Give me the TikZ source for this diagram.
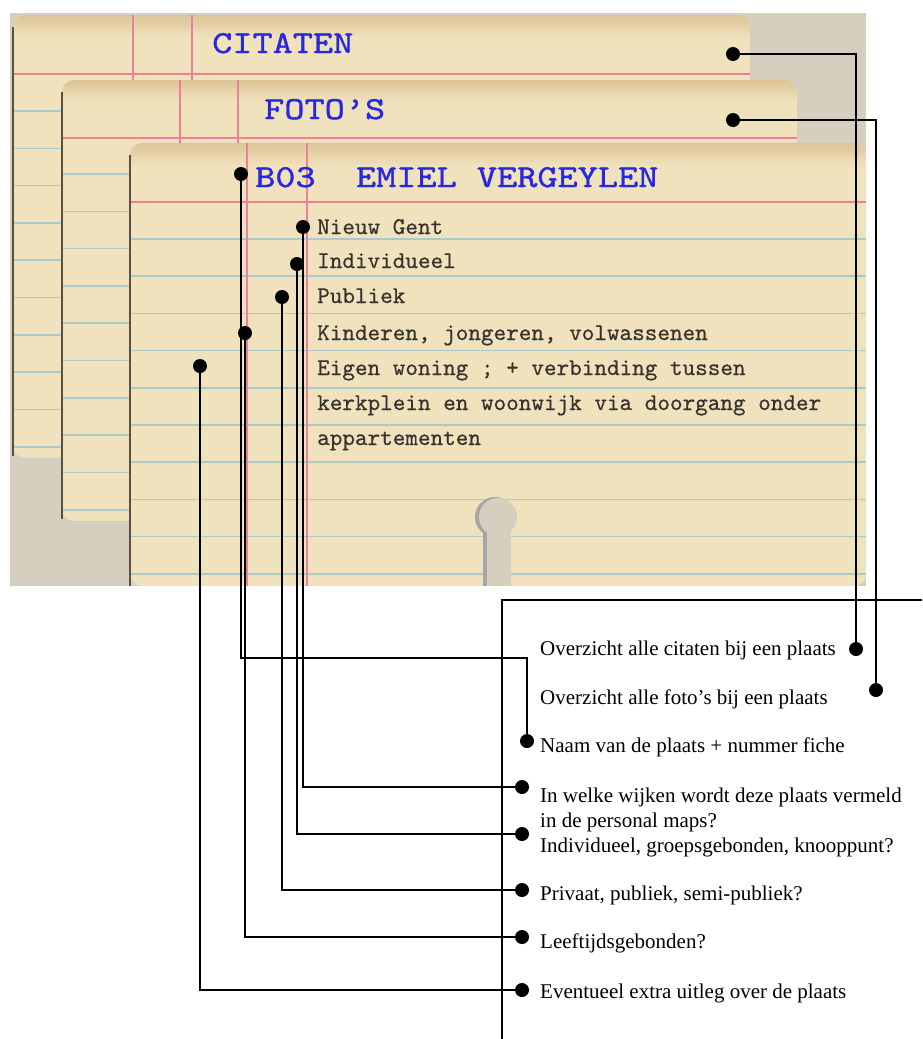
\documentclass[tikz,border=0pt]{standalone}
\usepackage{fontspec}
\setmainfont{Liberation Serif}
\newfontfamily\hdrfont[FakeStretch=1.2,FakeBold=1.2]{lmmono10-regular.otf}
\newfontfamily\typefont[FakeBold=0.6]{lmmono10-regular.otf}
\definecolor{linen}{RGB}{214,207,192}
\definecolor{cardfill}{RGB}{241,226,190}
\definecolor{cardtop}{RGB}{220,196,150}
\definecolor{redln}{RGB}{234,128,158}
\definecolor{blueln}{RGB}{168,202,200}
\definecolor{inkblue}{RGB}{40,40,225}
\definecolor{ink}{RGB}{55,50,45}
\definecolor{cardedge}{RGB}{90,80,70}
\tikzset{
  redrule/.style={draw=redln, line width=2pt},
  bluerule/.style={draw=blueln, line width=1.6pt},
  edgeline/.style={draw=cardedge, line width=1.6pt},
  hdr/.style={anchor=base west, inner sep=0pt, text=inkblue, font=\hdrfont\fontsize{32}{36}\selectfont},
  body/.style={anchor=base west, inner sep=0pt, text=ink, font=\typefont\fontsize{24}{28}\selectfont},
  lbl/.style={anchor=base west, inner sep=0pt, text=black, font=\fontsize{21}{25}\selectfont},
  dot/.style={circle, fill=black, inner sep=0pt, minimum size=14pt},
  conn/.style={draw=black, line width=2pt}
}
\begin{document}
\begin{tikzpicture}[x=1pt,y=-1pt]
\useasboundingbox (0,0) rectangle (922,1039);
\fill[white] (0,0) rectangle (922,1039);
% linen background of the photo
\fill[linen] (10,13) rectangle (866,586);

% card 1 : CITATEN
\begin{scope}
\clip[rounded corners=12pt] (13,458) -- (13,15) -- (750,15) -- (750,458) -- cycle;
\fill[cardfill] (13,15) rectangle (750,458);
\shade[top color=cardtop, bottom color=cardfill] (13,15) rectangle (750,38);
\foreach \y in {111,148.3,...,450} \draw[bluerule] (13,\y) -- (750,\y);
\draw[redrule] (13,74) -- (750,74);
\foreach \x in {133,192} \draw[redrule] (\x,15) -- (\x,458);
\end{scope}
\draw[edgeline] (13,456) -- (13,27);

% card 2 : FOTO'S
\begin{scope}
\clip[rounded corners=12pt] (62,521) -- (62,80) -- (797,80) -- (797,521) -- cycle;
\fill[cardfill] (62,80) rectangle (797,521);
\shade[top color=cardtop, bottom color=cardfill] (62,80) rectangle (797,102);
\foreach \y in {174,211.3,...,515} \draw[bluerule] (62,\y) -- (797,\y);
\draw[redrule] (62,138) -- (797,138);
\foreach \x in {180,238} \draw[redrule] (\x,80) -- (\x,521);
\end{scope}
\draw[edgeline] (62,519) -- (62,92);

% card 3 : B03
\begin{scope}
\clip[rounded corners=12pt] (130,586) -- (130,143) -- (866,143) -- (866,586) -- cycle;
\fill[cardfill] (130,143) rectangle (866,586);
\shade[top color=cardtop, bottom color=cardfill] (130,143) rectangle (866,166);
\foreach \y in {239,276.2,...,580} \draw[bluerule] (130,\y) -- (866,\y);
\draw[redrule] (130,202) -- (866,202);
\foreach \x in {247,307} \draw[redrule] (\x,143) -- (\x,586);
\end{scope}
\draw[edgeline] (130,586) -- (130,155);

% keyhole in card 3
\fill[gray!70] (495,517) circle (20);
\fill[gray!70] (483,517) rectangle (509,586);
\fill[linen] (498,517) circle (19);
\fill[linen] (487,517) rectangle (511,586);

% texts on the cards
\node[hdr] (tcit) at (212,53) {CITATEN};
\node[hdr] (tfot) at (264,119) {FOTO’S};
\node[hdr] (tb03) at (255,187) {B03\ \ EMIEL VERGEYLEN};
\node[body] (tng) at (317,234) {Nieuw Gent};
\node[body] (tind) at (317,268) {Individueel};
\node[body] (tpub) at (317,303) {Publiek};
\node[body] (tkin) at (317,340) {Kinderen, jongeren, volwassenen};
\node[body] (teig1) at (317,375) {Eigen woning ; + verbinding tussen};
\node[body] (teig2) at (317,410) {kerkplein en woonwijk via doorgang onder};
\node[body] (teig3) at (317,445) {appartementen};

% explanatory labels
\node[lbl] (lcit) at (540,655) {Overzicht alle citaten bij een plaats};
\node[lbl] (lfot) at (540,704) {Overzicht alle foto’s bij een plaats};
\node[lbl] (lnaam) at (540,752) {Naam van de plaats + nummer fiche};
\node[lbl] (lwa) at (540,802) {In welke wijken wordt deze plaats vermeld};
\node[lbl] (lwb) at (540,827) {in de personal maps?};
\node[lbl] (lind) at (540,852) {Individueel, groepsgebonden, knooppunt?};
\node[lbl] (lpub) at (540,900) {Privaat, publiek, semi-publiek?};
\node[lbl] (lkin) at (540,948) {Leeftijdsgebonden?};
\node[lbl] (leig) at (540,998) {Eventueel extra uitleg over de plaats};

% dots on the cards
\node[dot] (dcit) at (733,54) {};
\node[dot] (dfot) at (733,120) {};
\node[dot] (db03) at (241,174) {};
\node[dot] (dng) at (303,227) {};
\node[dot] (dind) at (297,264) {};
\node[dot] (dpub) at (282,297) {};
\node[dot] (dkin) at (245,333) {};
\node[dot] (deig) at (200,366) {};
% dots at the labels
\node[dot] (rcit) at (856,649) {};
\node[dot] (rfot) at (876,690) {};
\node[dot] (rnaam) at (527,741) {};
\node[dot] (rwijk) at (522,787) {};
\node[dot] (rind) at (522,834) {};
\node[dot] (rpub) at (522,890) {};
\node[dot] (rkin) at (522,937) {};
\node[dot] (reig) at (522,990) {};
\coordinate (bend) at (527,658);
\coordinate (gr) at (922,600);
\coordinate (gt) at (502,600);
\coordinate (gb) at (502,1039);

% connectors
\draw[conn] (dcit.center) -| (rcit.center);
\draw[conn] (dfot.center) -| (rfot.center);
\draw[conn] (db03.center) |- (bend) -- (rnaam.center);
\draw[conn] (dng.center) |- (rwijk.center);
\draw[conn] (dind.center) |- (rind.center);
\draw[conn] (dpub.center) |- (rpub.center);
\draw[conn] (dkin.center) |- (rkin.center);
\draw[conn] (deig.center) |- (reig.center);
\draw[conn] (gr) -- (gt) -- (gb);
\end{tikzpicture}
\end{document}
